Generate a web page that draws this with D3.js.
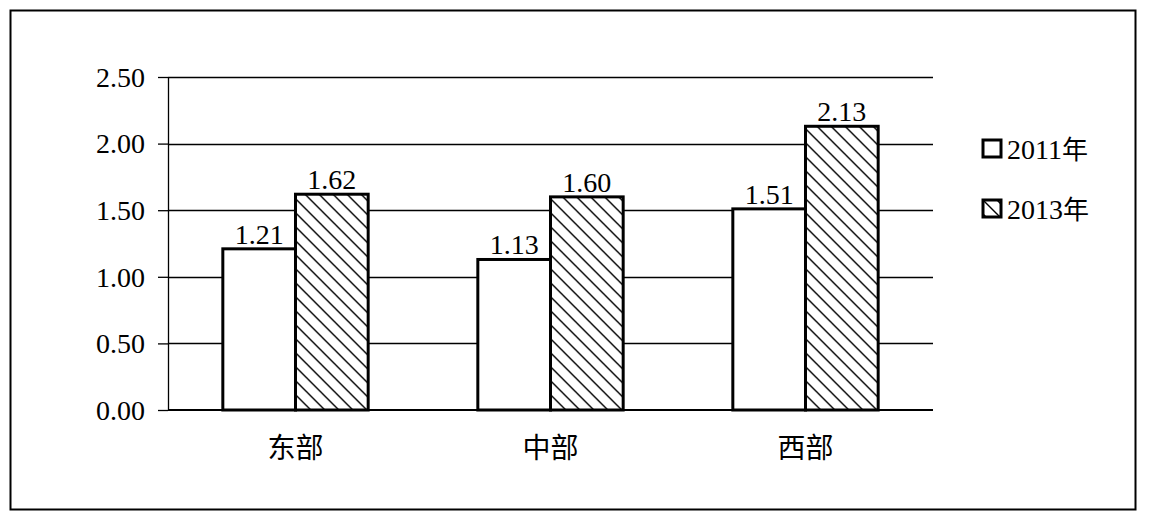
<!DOCTYPE html>
<html>
<head>
<meta charset="utf-8">
<script src="https://cdn.jsdelivr.net/npm/d3@7"></script>
<style>
  body { margin: 0; background: #fff; }
  text { fill: #000; }
</style>
</head>
<body>
<div id="chart"></div>
<script>
const regions = ['东部', '中部', '西部']
const seriesNames = ['2011年', '2013年']
const values2011 = [1.21, 1.13, 1.51]
const values2013 = [1.62, 1.60, 2.13]
const yTicks = [0, 0.5, 1, 1.5, 2, 2.5]

const width = 1152
const height = 524
const margin = { left: 168, right: 219, top: 77, bottom: 114 }
const serif = '"Liberation Serif", "Times New Roman", "DejaVu Serif", serif'
const cjk = '"Noto Sans CJK SC", sans-serif'

const svg = d3.select('#chart').append('svg')
  .attr('width', width)
  .attr('height', height)

// hatch pattern for 2013
const hs = 14
const defs = svg.append('defs')
const pat = defs.append('pattern')
  .attr('id', 'hatch')
  .attr('patternUnits', 'userSpaceOnUse')
  .attr('width', hs)
  .attr('height', hs)
pat.append('rect').attr('width', hs).attr('height', hs).attr('fill', '#fff')
pat.append('path')
  .attr('d', `M${-hs / 2},${-hs / 2} L${hs * 1.5},${hs * 1.5} M${-hs / 2},${hs / 2} L${hs / 2},${hs * 1.5} M${hs / 2},${-hs / 2} L${hs * 1.5},${hs / 2}`)
  .attr('stroke', '#000')
  .attr('stroke-width', 1.4)

// outer frame
svg.append('rect')
  .attr('x', 10.5).attr('y', 10.5)
  .attr('width', 1125).attr('height', 499)
  .attr('fill', 'none')
  .attr('stroke', '#000')
  .attr('stroke-width', 2)

const x0 = d3.scaleBand()
  .domain(regions)
  .range([margin.left, width - margin.right])
  .paddingInner(0.43)
  .paddingOuter(0.215)

const x1 = d3.scaleBand()
  .domain(seriesNames)
  .range([0, x0.bandwidth()])

const y = d3.scaleLinear()
  .domain([0, 2.5])
  .range([height - margin.bottom, margin.top])

// gridlines
svg.append('g')
  .selectAll('line')
  .data(yTicks.slice(1))
  .join('line')
  .attr('x1', margin.left)
  .attr('x2', width - margin.right)
  .attr('y1', d => Math.round(y(d)) + 0.5)
  .attr('y2', d => Math.round(y(d)) + 0.5)
  .attr('stroke', '#000')
  .attr('stroke-width', 1.3)

// y axis
const yAxis = svg.append('g')
  .attr('transform', `translate(${margin.left},0)`)
  .call(d3.axisLeft(y).tickValues(yTicks).tickFormat(d3.format('.2f')).tickSize(10).tickSizeOuter(0))
  .attr('font-family', serif)
  .attr('font-size', 28)
yAxis.select('.domain').attr('stroke-width', 1.3)
yAxis.selectAll('.tick line').attr('stroke-width', 1.3)
yAxis.selectAll('text')
  .attr('x', -23)
  .attr('dy', '0.33em')

const data = regions.map((r, i) => ({
  region: r,
  vals: [
    { name: seriesNames[0], v: values2011[i] },
    { name: seriesNames[1], v: values2013[i] }
  ]
}))

const groups = svg.append('g')
  .selectAll('g')
  .data(data)
  .join('g')
  .attr('transform', d => `translate(${x0(d.region)},0)`)

groups.selectAll('rect')
  .data(d => d.vals)
  .join('rect')
  .attr('x', d => x1(d.name))
  .attr('y', d => y(d.v))
  .attr('width', x1.bandwidth())
  .attr('height', d => y(0) - y(d.v))
  .attr('fill', (d, i) => i === 0 ? '#fff' : 'url(#hatch)')
  .attr('stroke', '#000')
  .attr('stroke-width', 3)

groups.selectAll('text.val')
  .data(d => d.vals)
  .join('text')
  .attr('class', 'val')
  .attr('x', d => x1(d.name) + x1.bandwidth() / 2)
  .attr('y', d => y(d.v) - 5)
  .attr('text-anchor', 'middle')
  .attr('font-family', serif)
  .attr('font-size', 28)
  .text(d => d.v.toFixed(2))

// x axis baseline
svg.append('line')
  .attr('x1', margin.left)
  .attr('x2', width - margin.right)
  .attr('y1', y(0))
  .attr('y2', y(0))
  .attr('stroke', '#000')
  .attr('stroke-width', 2)

svg.append('g')
  .selectAll('text')
  .data(regions)
  .join('text')
  .attr('x', d => x0(d) + x0.bandwidth() / 2)
  .attr('y', 458)
  .attr('text-anchor', 'middle')
  .attr('font-family', cjk)
  .attr('font-size', 28)
  .text(d => d)

// legend
const legend = svg.append('g')
  .selectAll('g')
  .data(seriesNames)
  .join('g')
  .attr('transform', (d, i) => `translate(983,${140 + i * 60})`)

legend.append('rect')
  .attr('width', 18)
  .attr('height', 17)
  .attr('fill', (d, i) => i === 0 ? '#fff' : 'url(#hatch)')
  .attr('stroke', '#000')
  .attr('stroke-width', 3)

legend.append('text')
  .attr('x', 24)
  .attr('y', 19)
  .attr('font-family', serif)
  .attr('font-size', 28)
  .text(d => d.replace('年', ''))
  .append('tspan')
  .attr('font-family', cjk)
  .attr('font-size', 26)
  .text('年')
</script>
</body>
</html>
